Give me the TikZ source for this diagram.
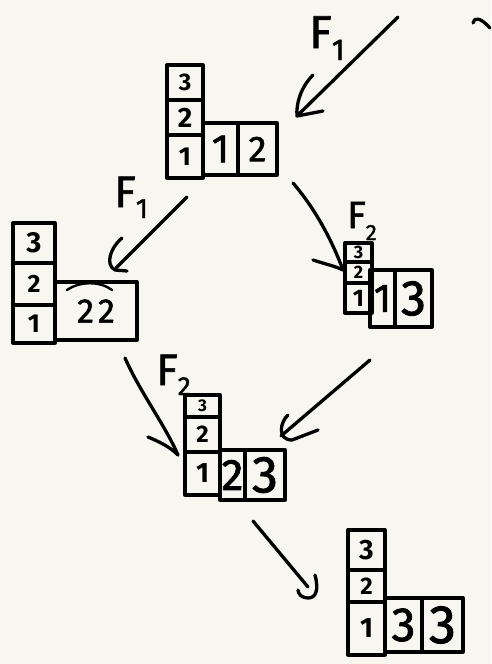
\documentclass[tikz,border=0pt]{standalone}
\usepackage{fontspec}
\setmainfont{Fira Sans}
\newfontfamily\thickfont{Fira Sans}[FakeBold=1.6]
% one cell of a tableau: name, left, top, right, bottom, entry, font size
\newcommand\tcell[7]{\node[cell, minimum width={(#4)-(#2)}, minimum height={(#5)-(#3)},
  font=\fontsize{#7}{#7}\selectfont] (#1) at ({((#2)+(#4))/2},{((#3)+(#5))/2}) {#6};}
% an operator label with a lowered index: name, x, baseline, letter, index, sizes, drop
\newcommand\oplabel[8]{\node[anchor=base west, inner sep=0pt, font=\thickfont\fontsize{#6}{#6}\selectfont]
  (#1) at (#2,#3) {#4\raisebox{-#8pt}{\fontsize{#7}{#7}\selectfont #5}};}
\definecolor{paper}{HTML}{F8F6F1}
\begin{document}
\begin{tikzpicture}[x=1pt, y=-1pt,
  ink/.style={line width=3.3pt, line cap=round, line join=round, black},
  cell/.style={draw, ink, inner sep=0pt, outer sep=0pt}]
\fill[paper] (0,0) rectangle (491,664);
\useasboundingbox (0,0) rectangle (491,664);

% top tableau
\tcell{a3}{167}{65}{203}{100}{\bfseries 3}{24}
\tcell{a2}{167}{100}{203}{135}{\bfseries 2}{28}
\tcell{a1}{167}{135}{203}{178}{\bfseries 1}{26}
\tcell{a4}{203}{123}{238}{175}{\thickfont 1}{40}
\tcell{a5}{238}{123}{277}{175}{\thickfont 2}{36}

% left tableau
\tcell{b3}{13}{223}{55}{263}{\bfseries 3}{29}
\tcell{b2}{13}{263}{55}{305}{\bfseries 2}{25}
\tcell{b1}{13}{305}{55}{343}{\bfseries 1}{26}
\tcell{b4}{55}{282}{137}{340}{\thickfont 2\hspace{4pt}2}{34}
\draw[ink, line width=2.4pt] (67,290) .. controls (80,281) and (100,281) .. (112,290);

% right tableau
\tcell{c3}{345}{243}{372}{262}{\bfseries 3}{18}
\tcell{c2}{345}{262}{372}{283}{\bfseries 2}{18}
\tcell{c1}{345}{283}{372}{313}{\bfseries 1}{24}
\tcell{c4}{370}{270}{395}{327}{\thickfont 1}{40}
\tcell{c5}{395}{270}{432}{327}{\thickfont 3}{50}

% middle tableau
\tcell{d3}{185}{395}{220}{417}{\bfseries 3}{17}
\tcell{d2}{185}{417}{220}{452}{\bfseries 2}{24}
\tcell{d1}{185}{452}{220}{495}{\bfseries 1}{28}
\tcell{d4}{220}{450}{245}{500}{\thickfont 2}{44}
\tcell{d5}{245}{450}{285}{500}{\thickfont 3}{52}

% bottom tableau
\tcell{e3}{348}{530}{385}{570}{\bfseries 3}{28}
\tcell{e2}{348}{570}{385}{602}{\bfseries 2}{24}
\tcell{e1}{348}{602}{385}{655}{\bfseries 1}{28}
\tcell{e4}{385}{598}{422}{652}{\thickfont 3}{48}
\tcell{e5}{422}{598}{463}{652}{\thickfont 3}{54}

% operator labels
\oplabel{f1}{309}{48}{F}{1}{46}{30}{12}
\oplabel{f2}{114}{207}{F}{1}{44}{28}{11}
\oplabel{f3}{347}{228}{F}{2}{38}{22}{12}
\oplabel{f4}{156}{385}{F}{2}{44}{26}{10}

% arrows
\coordinate (s1) at (398,17);  \coordinate (t1) at (299,114);
\draw[ink] (s1) -- (t1);
\draw[ink] (313,75) .. controls (300,88) and (296,105) .. (297,116) -- (323,111);

\coordinate (s2) at (187,197); \coordinate (t2) at (116,268);
\draw[ink] (s2) -- (t2);
\draw[ink] (122,238) .. controls (110,248) and (105,265) .. (115,270) -- (127,271);

\coordinate (s3) at (293,183); \coordinate (t3) at (343,270);
\draw[ink] (s3) .. controls (312,205) and (330,235) .. (t3);
\draw[ink] (313,260) .. controls (325,264) and (335,266) .. (t3);

\coordinate (s4) at (125,358); \coordinate (t4) at (178,455);
\draw[ink] (s4) .. controls (140,392) and (165,425) .. (t4);
\draw[ink] (148,437) .. controls (160,442) and (170,447) .. (t4);

\coordinate (s5) at (370,360); \coordinate (t5) at (281,436);
\draw[ink] (s5) -- (t5);
\draw[ink] (288,415) .. controls (280,422) and (277,440) .. (292,440) -- (318,430);

\coordinate (s6) at (253,521); \coordinate (t6) at (308,587);
\draw[ink] (s6) -- (t6);
\draw[ink] (315,575) .. controls (319,590) and (316,598) .. (308,598)
  .. controls (302,598) and (298,594) .. (298,590);

% stray stroke at the top right
\draw[ink] (473,23) .. controls (474,17) and (480,17) .. (490,28);
\end{tikzpicture}
\end{document}
